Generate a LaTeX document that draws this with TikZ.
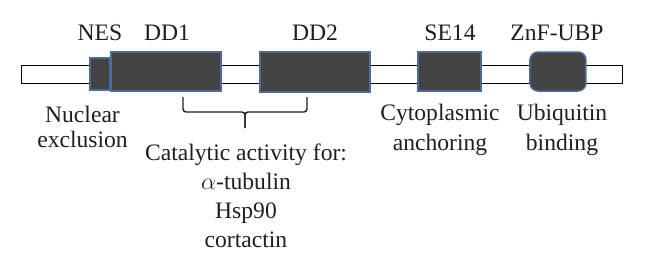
\documentclass[tikz,border=0pt]{standalone}
\usepackage{fontspec}
\setmainfont{Liberation Serif}
\usetikzlibrary{positioning}
\definecolor{ink}{HTML}{1E1E2A}
\definecolor{domainFill}{HTML}{444444}
\definecolor{domainEdge}{HTML}{4A6B9C}
\tikzset{
  chain bar/.style={
    draw=black,
    fill=white,
    line width=0.5pt,
    inner sep=0pt
  },
  domain box/.style={
    draw=domainEdge,
    fill=domainFill,
    line width=0.75pt,
    inner sep=0pt
  },
  site label/.style={
    font=\fontsize{11.8}{12.5}\selectfont,
    text=ink,
    align=center,
    inner sep=0pt
  },
  role label/.style={
    site label,
    anchor=base
  },
  brace line/.style={
    draw=ink,
    line width=0.7pt,
    rounded corners=1.5pt
  }
}

\begin{document}
\begin{tikzpicture}[x=0.5pt,y=-0.5pt]
  \useasboundingbox (0,0) rectangle (661,268);

  % backbone of the protein
  \node[chain bar,minimum width=300.5pt,minimum height=9pt] (chain) at (322.5,74) {};

  % domains
  \node[domain box,minimum width=10pt,minimum height=16pt] (nes) at (100,74) {};
  \node[domain box,minimum width=55pt,minimum height=19.5pt] (dd1) at (166,71.5) {};
  \node[domain box,minimum width=55pt,minimum height=20pt] (dd2) at (315,72) {};
  \node[domain box,minimum width=31.5pt,minimum height=19.5pt] (se14) at (449.5,71.5) {};
  \node[domain box,minimum width=28pt,minimum height=19.5pt,rounded corners=4pt] (znf) at (558,71.5) {};

  % names above
  \node[role label] (nes name) at (100,40) {NES};
  \node[role label] (dd1 name) at (167,40) {DD1};
  \node[role label] (dd2 name) at (315,40) {DD2};
  \node[role label] (se14 name) at (450,40) {SE14};
  \node[role label] (znf name) at (557,40) {ZnF-UBP};

  % roles below (base = last line)
  \node[role label] (nes role) at (82.5,147) {Nuclear\\exclusion};
  \node[role label,font=\fontsize{11.8}{15}\selectfont] (se14 role) at (440,150) {Cytoplasmic\\anchoring};
  \node[role label,font=\fontsize{11.8}{15}\selectfont] (znf role) at (562,150) {Ubiquitin\\binding};

  % bracket over both deacetylase domains
  \coordinate (brace left) at (183,97);
  \coordinate (brace right) at (307,97);
  \coordinate (brace tip) at (245,128);
  \draw[brace line] (brace left) -- (183,112) -- (245,112) -- (brace tip);
  \draw[brace line] (brace right) -- (307,112) -- (245,112) -- (brace tip);

  \node[role label,font=\fontsize{11.8}{14.5}\selectfont] (dd role) at (246,247)
    {Catalytic activity for:\\$\alpha$-tubulin\\Hsp90\\cortactin};
\end{tikzpicture}
\end{document}
